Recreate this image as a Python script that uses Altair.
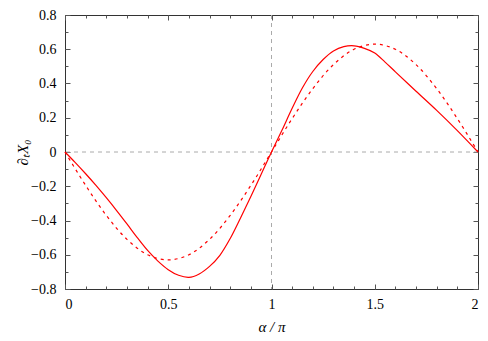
import altair as alt
import pandas as pd

# ---- data ----
alpha_solid = [0.0, 0.05, 0.1, 0.15, 0.2, 0.25, 0.3, 0.35, 0.4, 0.45, 0.5, 0.55,
               0.6, 0.65, 0.7, 0.75, 0.8, 0.85, 0.9, 0.95, 1.0, 1.05, 1.1, 1.15,
               1.2, 1.25, 1.3, 1.35, 1.4, 1.45, 1.5, 1.55, 1.6, 1.7, 1.8, 1.9, 2.0]
solid = [0.0, -0.062, -0.127, -0.195, -0.267, -0.342, -0.42, -0.50, -0.575, -0.637,
         -0.687, -0.72, -0.732, -0.712, -0.668, -0.603, -0.505, -0.385, -0.26, -0.13,
         0.0, 0.125, 0.255, 0.375, 0.47, 0.54, 0.59, 0.615, 0.62, 0.605, 0.578,
         0.525, 0.468, 0.355, 0.243, 0.125, 0.0]

alpha_dashed = [0.0, 0.1, 0.2, 0.3, 0.4, 0.5, 0.6, 0.7, 0.8, 0.9, 1.0,
                1.1, 1.2, 1.3, 1.4, 1.5, 1.6, 1.7, 1.8, 1.9, 2.0]
dashed = [0.0, -0.195, -0.37, -0.51, -0.60, -0.63, -0.60, -0.51, -0.37, -0.195, 0.0,
          0.195, 0.37, 0.51, 0.60, 0.63, 0.60, 0.51, 0.37, 0.195, 0.0]

x_major = [0, 0.5, 1, 1.5, 2]
x_minor = [0, 0.1, 0.2, 0.3, 0.4, 0.5, 0.6, 0.7, 0.8, 0.9, 1.0,
           1.1, 1.2, 1.3, 1.4, 1.5, 1.6, 1.7, 1.8, 1.9, 2.0]
y_major = [-0.8, -0.6, -0.4, -0.2, 0, 0.2, 0.4, 0.6, 0.8]
y_minor = [-0.8, -0.7, -0.6, -0.5, -0.4, -0.3, -0.2, -0.1, 0, 0.1, 0.2, 0.3,
           0.4, 0.5, 0.6, 0.7, 0.8]
vline_x = [1.0]
hline_y = [0.0]

df_s = pd.DataFrame({"a": alpha_solid, "v": solid})
df_d = pd.DataFrame({"a": alpha_dashed, "v": dashed})
df_vl = pd.DataFrame({"a": vline_x})
df_hl = pd.DataFrame({"v": hline_y})

FONT = "Liberation Serif, Times New Roman, serif"
TICK = "#555555"
xs = alt.Scale(domain=[0, 2], nice=False, zero=False)
ys = alt.Scale(domain=[-0.8, 0.8], nice=False, zero=False)


def tick_axis(orient, values, size):
    return alt.Axis(orient=orient, values=values, labels=False, domain=False,
                    grid=False, ticks=True, tickSize=size, offset=-size,
                    tickColor=TICK, tickWidth=1, title=None)


label_x = alt.Axis(orient="bottom", values=x_major, format="~g", ticks=False,
                   domain=False, grid=False, labelFont=FONT, labelFontSize=14,
                   labelColor="black", labelPadding=8, title="α / π",
                   titleFont=FONT, titleFontSize=15, titleFontWeight="normal",
                   titleFontStyle="italic", titleColor="black",
                   titleY=42, titleBaseline="alphabetic")
label_y = alt.Axis(orient="left", values=y_major, format="~g", ticks=False,
                   domain=False, grid=False, labelFont=FONT, labelFontSize=14,
                   labelColor="black", labelPadding=9, title="∂ₜX₀",
                   titleFont=FONT, titleFontSize=15, titleFontWeight="normal",
                   titleFontStyle="italic", titleColor="black",
                   titleX=-43, titleY=137, titleBaseline="middle")

vrule = alt.Chart(df_vl).mark_rule(color="#aaaaaa", strokeWidth=1, strokeDash=[4, 4]).encode(
    x=alt.X("a:Q", scale=xs, axis=tick_axis("top", x_minor, 3)))
hrule = alt.Chart(df_hl).mark_rule(color="#aaaaaa", strokeWidth=1, strokeDash=[4, 4]).encode(
    y=alt.Y("v:Q", scale=ys, axis=tick_axis("right", y_minor, 3)))
vrule2 = alt.Chart(df_vl).mark_rule(opacity=0).encode(
    x=alt.X("a:Q", scale=xs, axis=tick_axis("bottom", x_major, 5)))
vrule3 = alt.Chart(df_vl).mark_rule(opacity=0).encode(
    x=alt.X("a:Q", scale=xs, axis=tick_axis("top", x_major, 5)))
hrule2 = alt.Chart(df_hl).mark_rule(opacity=0).encode(
    y=alt.Y("v:Q", scale=ys, axis=tick_axis("left", y_major, 5)))
hrule3 = alt.Chart(df_hl).mark_rule(opacity=0).encode(
    y=alt.Y("v:Q", scale=ys, axis=tick_axis("right", y_major, 5)))

dash_line = alt.Chart(df_d).mark_line(color="#ff0000", strokeWidth=1.2,
                                      strokeDash=[3, 4], interpolate="catmull-rom").encode(
    x=alt.X("a:Q", scale=xs, axis=tick_axis("bottom", x_minor, 3)),
    y=alt.Y("v:Q", scale=ys, axis=tick_axis("left", y_minor, 3)))
solid_line = alt.Chart(df_s).mark_line(color="#ff0000", strokeWidth=1.2,
                                       interpolate="catmull-rom").encode(
    x=alt.X("a:Q", scale=xs, axis=label_x),
    y=alt.Y("v:Q", scale=ys, axis=label_y))

chart = alt.layer(vrule, hrule, vrule2, vrule3, hrule2, hrule3, dash_line, solid_line).resolve_axis(
    x="independent", y="independent"
).properties(
    width=413, height=274,
    autosize=alt.AutoSizeParams(type="none"),
    padding={"left": 57, "top": 7, "right": 2, "bottom": 44},
).configure_view(stroke="#333333", strokeWidth=1)

chart.save("out.html", embed_options={"renderer": "svg", "actions": False})
